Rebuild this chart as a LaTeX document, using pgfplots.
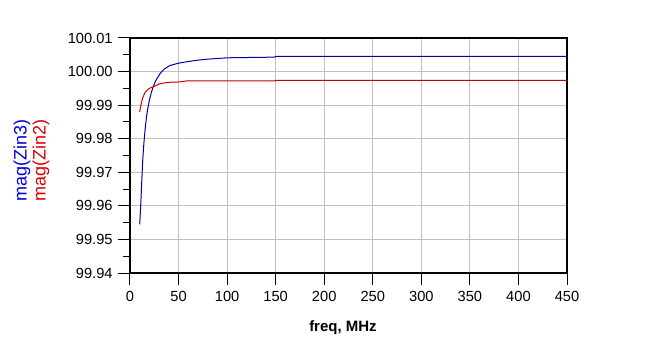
\documentclass[border=0pt]{standalone}
\usepackage{pgfplots}
\pgfplotsset{compat=1.18}
\usepackage{fontspec}
\setmainfont{Liberation Sans}
\definecolor{lineblue}{RGB}{0,0,170}
\definecolor{linered}{RGB}{200,0,0}
\definecolor{txtblue}{RGB}{0,0,220}
\definecolor{txtred}{RGB}{220,0,0}
\definecolor{gridgray}{RGB}{192,192,192}
\begin{document}
\begin{tikzpicture}
\path[use as bounding box] (0pt,0pt) rectangle (485.25pt,265.5pt);
\begin{axis}[
  at={(97.5pt,60.75pt)}, anchor=south west,
  width=327.75pt, height=176.25pt, scale only axis,
  xmin=0, xmax=450, ymin=99.94, ymax=100.01,
  xtick={0,50,...,450},
  ytick={99.94,99.95,99.96,99.97,99.98,99.99,100.00,100.01},
  minor y tick num=1,
  xtick pos=bottom, ytick pos=left,
  tick align=outside,
  major tick length=9pt, minor tick length=5.25pt,
  every tick/.style={black, line width=0.75pt},
  grid=major,
  major grid style={gridgray, line width=0.75pt},
  axis line style={black, line width=0.9pt},
  y tick label style={/pgf/number format/fixed, /pgf/number format/fixed zerofill, /pgf/number format/precision=2, xshift=-0.5pt},
  x tick label style={yshift=-1pt},
  tick label style={font=\fontsize{11pt}{12pt}\selectfont},
  /pgf/number format/assume math mode=true,
  clip=true,
]
\addplot[lineblue, line width=0.75pt] coordinates {
(10,99.9545) (11,99.9600) (12,99.9665) (13,99.9730) (14,99.9775) (15,99.9810)
(16,99.9840) (17,99.9865) (18,99.9885) (20,99.9915) (22,99.9938) (24,99.9955)
(26,99.9970) (28,99.9980) (31,99.9994) (35,100.0007) (41,100.0018) (50,100.0025)
(60,100.0030) (70,100.0034) (80,100.0037) (100,100.0041) (149,100.0043)
(150,100.0045) (450,100.0045)
};
\addplot[linered, line width=0.75pt] coordinates {
(10,99.9880) (11,99.9897) (12,99.9910) (13,99.9921) (15,99.9935) (17,99.9943)
(20,99.9950) (24,99.9955) (28,99.9960) (31,99.9964) (35,99.9966) (40,99.9968)
(50,99.9969) (58,99.9972) (100,99.9972) (149,99.9972) (150,99.99735) (450,99.99735)
};
\end{axis}
\node[rotate=90, text=txtblue, font=\fontsize{13.5pt}{15pt}\selectfont, inner sep=0pt] at (16.5pt,145pt) {mag(Zin3)};
\node[rotate=90, text=txtred, font=\fontsize{13.5pt}{15pt}\selectfont, inner sep=0pt] at (30.75pt,145pt) {mag(Zin2)};
\node[font=\bfseries\fontsize{11.25pt}{13pt}\selectfont, inner sep=0pt] at (257.25pt,19.5pt) {freq, MHz};
\end{tikzpicture}
\end{document}
